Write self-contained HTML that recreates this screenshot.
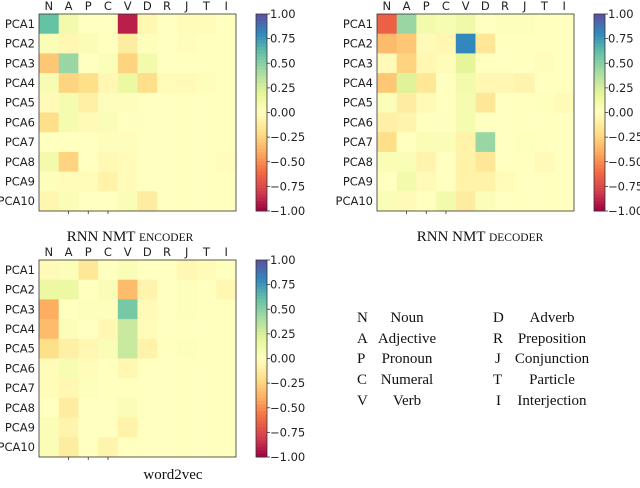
<!DOCTYPE html>
<html><head><meta charset="utf-8"><style>
body{margin:0;background:#fff}
svg{display:block}
.t{font-family:"DejaVu Sans","Liberation Sans",sans-serif;font-size:11.5px;fill:#222}
.s{font-family:"Liberation Serif",serif;fill:#111}
</style></head><body>
<svg id="c" width="640" height="488" viewBox="0 0 640 488">
<g class="s" font-size="15">
<text x="357" y="322">N</text><text x="407" y="322" text-anchor="middle">Noun</text>
<text x="357" y="343">A</text><text x="407" y="343" text-anchor="middle">Adjective</text>
<text x="357" y="363">P</text><text x="407" y="363" text-anchor="middle">Pronoun</text>
<text x="357" y="384">C</text><text x="407" y="384" text-anchor="middle">Numeral</text>
<text x="357" y="405">V</text><text x="407" y="405" text-anchor="middle">Verb</text>
<text x="493" y="322">D</text><text x="552" y="322" text-anchor="middle">Adverb</text>
<text x="493" y="343">R</text><text x="552" y="343" text-anchor="middle">Preposition</text>
<text x="495" y="363">J</text><text x="552" y="363" text-anchor="middle">Conjunction</text>
<text x="493" y="384">T</text><text x="552" y="384" text-anchor="middle">Particle</text>
<text x="496" y="405">I</text><text x="552" y="405" text-anchor="middle">Interjection</text>
</g>
<text class="s" x="130" y="241" font-size="15" text-anchor="middle">RNN NMT <tspan font-size="11.5">ENCODER</tspan></text>
<text class="s" x="480" y="241" font-size="15" text-anchor="middle">RNN NMT <tspan font-size="11.5">DECODER</tspan></text>
<text class="s" x="173" y="479" font-size="15" text-anchor="middle">word2vec</text>
</svg>
<script>
const cols=["N","A","P","C","V","D","R","J","T","I"];
const rows=["PCA1","PCA2","PCA3","PCA4","PCA5","PCA6","PCA7","PCA8","PCA9","PCA10"];
const cbTicks=[1,0.75,0.5,0.25,0,-0.25,-0.5,-0.75,-1];
const encoder=[
[.6,.1,0,0,-.9,-.05,0,-.02,-.02,0],
[.05,-.05,.05,0,-.12,.02,0,-.01,0,0],
[-.3,.45,0,.03,-.25,.1,0,0,0,0],
[.07,-.25,-.2,-.05,.15,-.2,-.02,-.03,-.01,0],
[-.03,.08,-.1,-.01,-.01,0,0,0,0,0],
[-.2,.08,-.03,.04,0,0,0,0,0,0],
[0,0,0,-.01,-.01,0,0,0,0,0],
[.1,-.25,0,-.04,-.02,0,0,0,0,-.01],
[.02,-.02,-.02,-.08,-.02,0,0,0,0,0],
[-.06,.05,0,0,.05,-.12,0,0,0,0]];
const decoder=[
[-.65,.45,.1,.07,.12,0,.02,.02,0,0],
[-.35,-.3,-.03,-.05,.8,-.15,0,0,0,0],
[-.03,-.25,-.05,-.02,.2,0,0,0,-.01,0],
[-.3,.22,-.15,0,.1,-.05,-.05,-.07,0,0],
[.03,-.12,-.03,0,.08,-.15,0,0,.01,-.03],
[-.1,-.07,0,0,.08,0,0,0,0,0],
[-.2,0,.05,.05,-.08,.45,0,.01,0,0],
[.05,.05,-.07,0,-.08,-.15,0,0,-.03,0],
[0,.1,-.03,0,-.08,-.08,-.02,0,0,0],
[.05,-.03,0,.1,-.12,.03,0,0,0,0]];
const word2vec=[
[-.03,.03,-.15,0,.05,0,0,-.05,-.02,0],
[.15,.15,0,.05,-.35,-.07,0,.02,0,-.05],
[-.4,0,.02,.02,.55,-.03,0,.02,0,0],
[-.35,.03,0,-.05,.3,-.02,0,0,0,0],
[-.2,-.1,-.05,.05,.3,-.08,0,.02,0,0],
[-.02,.07,-.02,0,-.05,0,0,0,0,0],
[-.02,-.05,.02,0,0,0,0,0,0,0],
[0,-.12,0,0,.05,0,0,0,0,0],
[.05,-.07,0,0,-.08,0,0,0,0,0],
[.05,-.12,0,-.07,0,0,0,0,0,0]];
const stops=["#9e0142","#d53e4f","#f46d43","#fdae61","#fee08b","#ffffbf","#e6f598","#abdda4","#66c2a5","#3288bd","#5e4fa2"];
function hx(h){return [1,3,5].map(i=>parseInt(h.substr(i,2),16));}
function cmap(v){let t=(Math.max(-1,Math.min(1,v))+1)/2*10;let i=Math.min(9,Math.floor(t));let f=t-i;
 const a=hx(stops[i]),b=hx(stops[i+1]);return "rgb("+a.map((x,k)=>Math.round(x+(b[k]-x)*f)).join(",")+")";}
const NS="http://www.w3.org/2000/svg";const svg=document.getElementById("c");
function el(tag,attrs,parent){const e=document.createElementNS(NS,tag);for(const k in attrs)e.setAttribute(k,attrs[k]);(parent||svg).appendChild(e);return e;}
function heat(data,x0,y0,cbx,name){
 const W=197,H=197,cw=W/10,ch=H/10;
 const g=el("g",{});
 
 
 const xs=i=>x0+i*cw, ys=j=>y0+j*ch;
 data.forEach((r,j)=>r.forEach((v,i)=>{
  const c=el("rect",{x:xs(i),y:ys(j),width:cw+0.4,height:ch+0.4,fill:cmap(v)},g);
  
  
 }));
 el("rect",{x:x0,y:y0,width:W,height:H,fill:"none",stroke:"#333","stroke-width":0.8},g);
 [1,2,3].forEach(i=>el("line",{x1:xs(i)+cw/2,x2:xs(i)+cw/2,y1:y0+H,y2:y0+H+3,stroke:"#333","stroke-width":0.8},g));
 cols.forEach((c,i)=>{const t=el("text",{x:xs(i)+cw/2,y:y0-4,"text-anchor":"middle",class:"t"},g);t.textContent=c;
  
  });
 rows.forEach((r,j)=>{const t=el("text",{x:x0-4,y:ys(j)+ch/2+4,"text-anchor":"end",class:"t"},g);t.textContent=r;
  
  });
 const cb=el("g",{},g);
 
 
 const n=60;for(let k=0;k<n;k++){const v=1-2*(k+0.5)/n;el("rect",{x:cbx,y:y0+k*H/n,width:11,height:H/n+0.5,fill:cmap(v)},cb);}
 el("rect",{x:cbx,y:y0,width:11,height:H,fill:"none",stroke:"#333","stroke-width":0.8},cb);
 const cy=v=>y0+(1-v)/2*H;
 cbTicks.forEach(v=>{el("line",{x1:cbx+11,x2:cbx+14,y1:cy(v),y2:cy(v),stroke:"#333","stroke-width":0.8},cb);
  const t=el("text",{x:cbx+14,y:cy(v)+4,class:"t"},cb);t.textContent=(v<0?"\u2212":"")+Math.abs(v).toFixed(2);
  
  });
}
heat(encoder,39,14,256,"encoder");
heat(decoder,377,14,594,"decoder");
heat(word2vec,39,260,256,"word2vec");
</script>
</body></html>
